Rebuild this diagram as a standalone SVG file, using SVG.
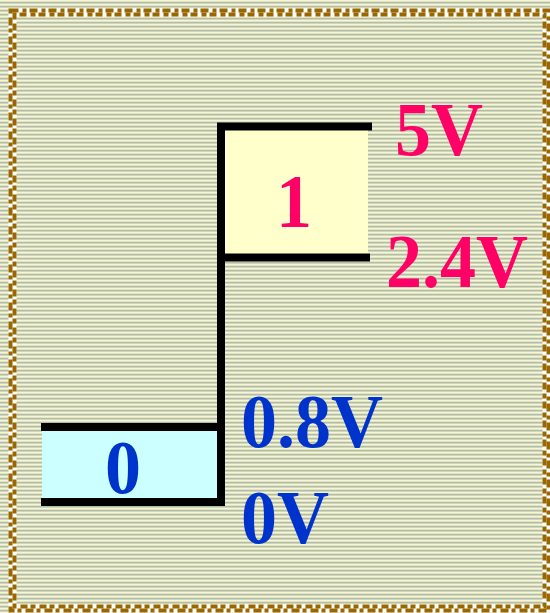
<svg xmlns="http://www.w3.org/2000/svg" width="550" height="613" viewBox="0 0 550 613">
<defs>
<pattern id="stripes" x="0" y="0" width="8" height="4" patternUnits="userSpaceOnUse">
<rect x="0" y="0" width="8" height="1" fill="#f6f6d6"/>
<rect x="0" y="1" width="8" height="1" fill="#e2e4c6"/>
<rect x="0" y="2" width="8" height="1" fill="#b2bca6"/>
<rect x="0" y="3" width="8" height="1" fill="#d0d6ba"/>
</pattern>
</defs>
<style>
.ln{stroke:#000;stroke-width:8;fill:none;stroke-linecap:square}
.pink{fill:#ff0066;font-family:"Liberation Serif","Times New Roman",serif;font-weight:bold;font-size:72px}
.blue{fill:#0033cc;font-family:"Liberation Serif","Times New Roman",serif;font-weight:bold;font-size:72px}
</style>
<rect x="0" y="0" width="550" height="613" fill="url(#stripes)"/>
<g id="border">
<rect x="12.5" y="12.5" width="534" height="596" fill="none" stroke="#ffffff" stroke-width="8"/>
<rect x="10.5" y="10.5" width="538" height="600" fill="none" stroke="#996600" stroke-width="4" stroke-dasharray="8 4 4 3"/>
<rect x="14.5" y="14.5" width="530" height="592" fill="none" stroke="#996600" stroke-width="4" stroke-dasharray="5 3 7 4" stroke-dashoffset="3"/>
</g>
<g id="node-1">
<rect x="225" y="130" width="143" height="125" fill="#ffffcc"/>
<text class="pink" text-anchor="middle" transform="translate(294,227) scale(1,1.07)">1</text>
</g>
<g id="node-0">
<rect x="42" y="430" width="176" height="68" fill="#ccffff"/>
<text class="blue" text-anchor="middle" transform="translate(123,493) scale(1,1.07)">0</text>
</g>
<g id="connectors">
<polyline class="ln" points="368,126.5 221,126.5 221,502 45,502"/>
<line class="ln" x1="225" y1="257.5" x2="366" y2="257.5"/>
<line class="ln" x1="45" y1="427" x2="218" y2="427"/>
</g>
<g id="labels">
<text class="pink" transform="translate(395,155) scale(1,1.07)">5V</text>
<text class="pink" transform="translate(386,287) scale(1,1.07)">2.4V</text>
<text class="blue" transform="translate(241,447) scale(1,1.07)">0.8V</text>
<text class="blue" transform="translate(241,543) scale(1,1.07)">0V</text>
</g>
</svg>
